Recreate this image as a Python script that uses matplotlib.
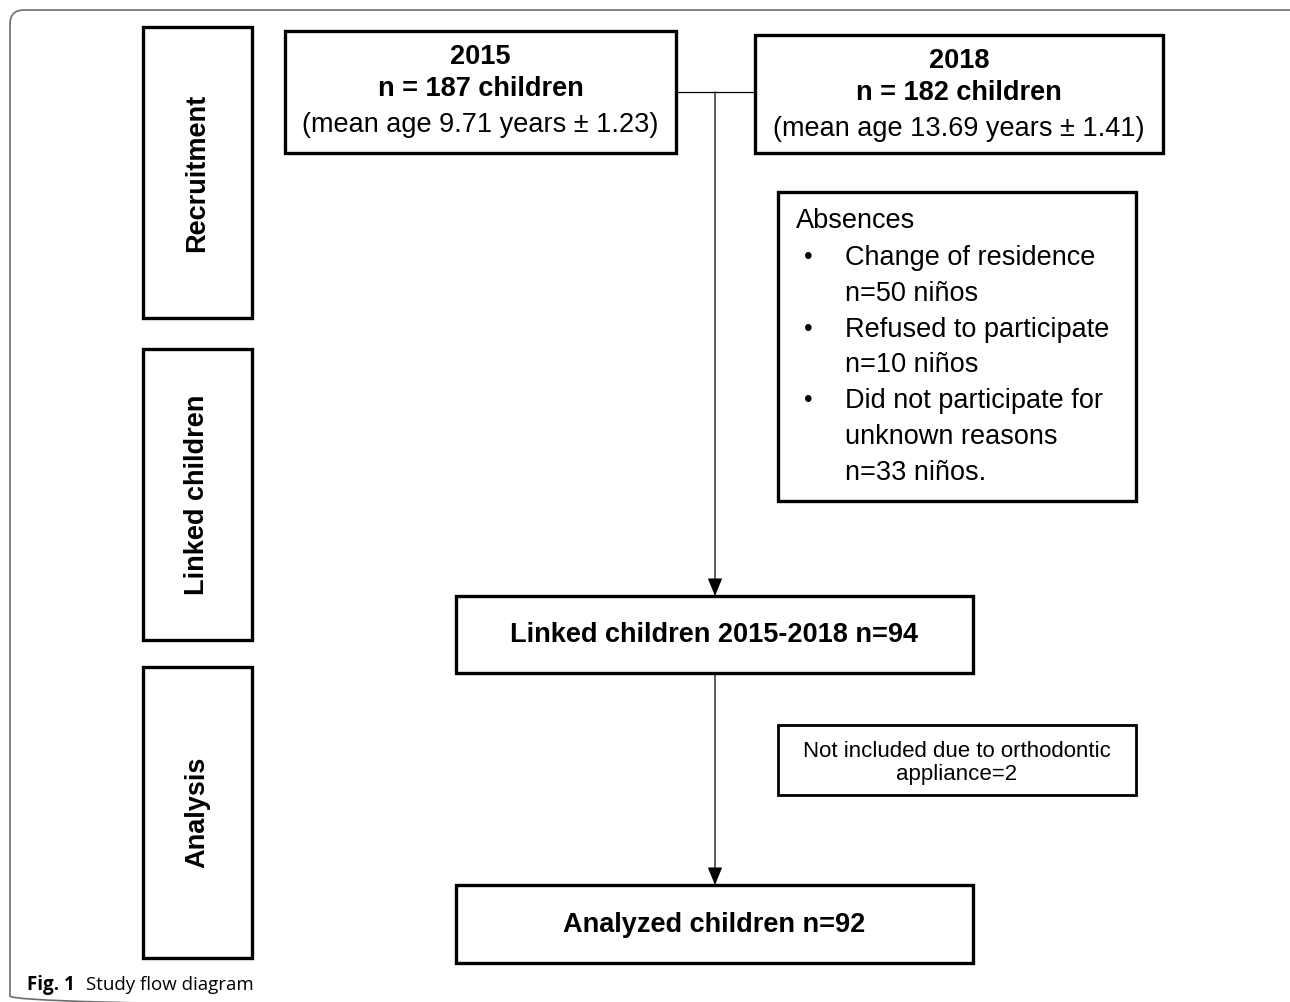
import matplotlib
matplotlib.use("Agg")
import matplotlib.pyplot as plt
from matplotlib.patches import Rectangle, FancyBboxPatch

# ---------------------- CONTENT ---------------------- #
stage_labels = ["Recruitment", "Linked children", "Analysis"]

wave_years = ["2015", "2018"]
wave_counts = ["n = 187 children", "n = 182 children"]
wave_ages = ["(mean age 9.71 years ± 1.23)", "(mean age 13.69 years ± 1.41)"]

absence_title = "Absences"
absence_items = [
    ["Change of residence", "n=50 niños"],
    ["Refused to participate", "n=10 niños"],
    ["Did not participate for", "unknown reasons", "n=33 niños."],
]

linked_text = "Linked children 2015-2018 n=94"
excluded_text = "Not included due to orthodontic\nappliance=2"
analyzed_text = "Analyzed children n=92"

caption_bold = "Fig. 1"
caption_text = "Study flow diagram"

# ---------------------- LAYOUT (pixels) ---------------------- #
W, H = 1290, 1002
stage_boxes = [(143, 27, 109, 291), (143, 349, 109, 291), (143, 667, 109, 291)]
wave_boxes = [(285, 31, 391, 122), (755, 35, 408, 118)]
absence_box = (778, 192, 358, 309)
linked_box = (456, 596, 517, 77)
excluded_box = (778, 725, 358, 70)
analyzed_box = (456, 885, 517, 78)
flow_x = 715
join_y = 92

FONT = "Liberation Sans"
FS = 19.5
BOX_LW = 2.4

fig = plt.figure(figsize=(W / 100, H / 100), dpi=100)
ax = fig.add_axes([0, 0, 1, 1])
ax.set_xlim(0, W)
ax.set_ylim(H, 0)
ax.axis("off")

# outer frame, only top and left edges are inside the picture
frame = FancyBboxPatch((10, 10), 1500, 1000, boxstyle="round,pad=0,rounding_size=14",
                       fill=False, edgecolor="#6d6d6d", linewidth=1.2)
ax.add_patch(frame)


def draw_box(box, lw=BOX_LW):
    x, y, w, h = box
    ax.add_patch(Rectangle((x, y), w, h, fill=False, edgecolor="black", linewidth=lw))


# stage column
for box, label in zip(stage_boxes, stage_labels):
    draw_box(box)
    x, y, w, h = box
    ax.text(x + w / 2, y + h / 2, label, rotation=90, ha="center", va="center",
            fontsize=FS, fontweight="bold", family=FONT)

# recruitment waves
for box, year, count, age in zip(wave_boxes, wave_years, wave_counts, wave_ages):
    draw_box(box)
    x, y, w, h = box
    cx = x + w / 2
    ax.text(cx, y + 26, year, ha="center", va="center", fontsize=FS, fontweight="bold", family=FONT)
    ax.text(cx, y + 58, count, ha="center", va="center", fontsize=FS, fontweight="bold", family=FONT)
    ax.text(cx, y + 94, age, ha="center", va="center", fontsize=FS, family=FONT)

# join line between waves and the downward flow
ax.plot([wave_boxes[0][0] + wave_boxes[0][2], wave_boxes[1][0]], [join_y, join_y],
        color="black", linewidth=0.9)

arrow_style = dict(arrowstyle="-|>,head_length=1.1,head_width=0.45", color="black",
                   linewidth=0.9, shrinkA=0, shrinkB=0)
ax.annotate("", xy=(flow_x, linked_box[1]), xytext=(flow_x, join_y), arrowprops=arrow_style)
ax.annotate("", xy=(flow_x, analyzed_box[1]), xytext=(flow_x, linked_box[1] + linked_box[3]),
            arrowprops=arrow_style)

# absences box
draw_box(absence_box)
ax_x, ax_y = absence_box[0], absence_box[1]
ax.text(ax_x + 18, ax_y + 29, absence_title, ha="left", va="center", fontsize=FS, family=FONT)
line_y = ax_y + 66
for item in absence_items:
    ax.text(ax_x + 30, line_y, "•", ha="center", va="center", fontsize=FS - 2, family=FONT)
    for line in item:
        ax.text(ax_x + 67, line_y, line, ha="left", va="center", fontsize=FS, family=FONT)
        line_y += 35.8

# linked / excluded / analyzed
draw_box(linked_box)
ax.text(linked_box[0] + linked_box[2] / 2, linked_box[1] + linked_box[3] / 2 + 1, linked_text,
        ha="center", va="center", fontsize=FS, fontweight="bold", family=FONT)

draw_box(excluded_box, lw=2.0)
ax.text(excluded_box[0] + excluded_box[2] / 2, excluded_box[1] + excluded_box[3] / 2 + 3, excluded_text,
        ha="center", va="center", fontsize=16, family=FONT, linespacing=1.1)

draw_box(analyzed_box)
ax.text(analyzed_box[0] + analyzed_box[2] / 2, analyzed_box[1] + analyzed_box[3] / 2 + 1, analyzed_text,
        ha="center", va="center", fontsize=FS, fontweight="bold", family=FONT)

# caption
cap = ax.text(27, 985, caption_bold, ha="left", va="center", fontsize=13.5, fontweight="bold",
              family="Open Sans")
fig.canvas.draw()
bb = cap.get_window_extent()
cap_end = ax.transData.inverted().transform((bb.x1, bb.y0))[0]
ax.text(cap_end + 11, 985, caption_text, ha="left", va="center", fontsize=13.5, family="Open Sans")

fig.savefig("out.png", dpi=100, facecolor="white")
